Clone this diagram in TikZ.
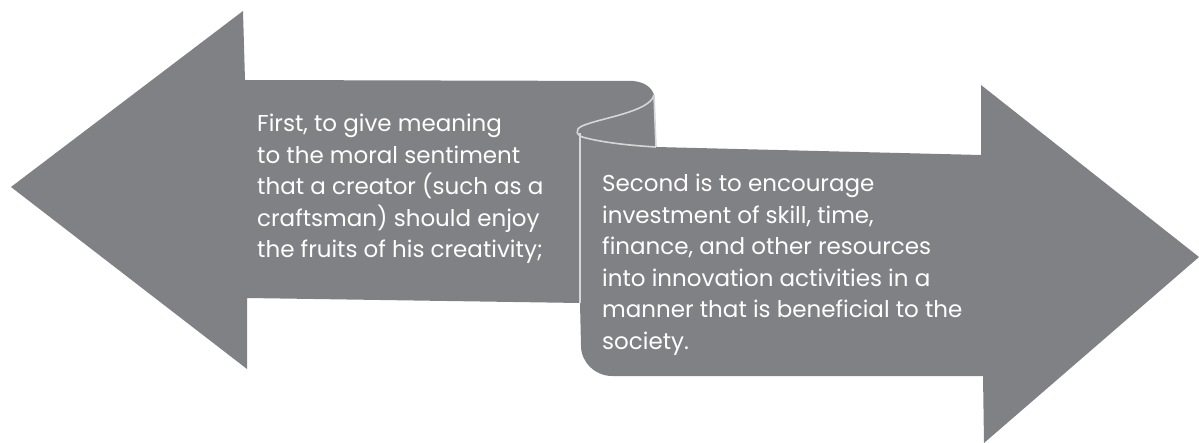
\documentclass[tikz,border=0pt]{standalone}
\usepackage{fontspec}
\setmainfont{Poppins}
\definecolor{arrowgray}{HTML}{808184}
\definecolor{foldline}{HTML}{D6D6D8}

\begin{document}
\begin{tikzpicture}[x=1pt, y=-1pt,
    every node/.style={text=white, font=\fontsize{23}{31.5}\selectfont, align=left, inner sep=0pt, anchor=north west},
    fold/.style={draw=foldline, line width=1.6pt}]
\useasboundingbox (0,0) rectangle (1199,443);
% both arrows as one ribbon
\fill[arrowgray] (11,187) -- (243,11) -- (245,80) -- (633,81)
    .. controls (645,82) and (652,88) .. (654,95) -- (656,147) -- (981,155)
    -- (981,85) -- (1199,257) -- (984,443) -- (983,376) -- (612,376)
    .. controls (595,376) and (581,362) .. (581,346) -- (580,303)
    -- (247,298) -- (247,369) -- cycle;
% the curl in the middle
\draw[fold] (654,95) .. controls (650,112) and (600,118) .. (582,126)
    .. controls (574,130) and (576,136) .. (586,138)
    .. controls (610,144) and (640,146) .. (656,147);
\draw[fold] (654,95) -- (656,147);
\draw[fold, line width=1.2pt] (580,133) -- (580,303);
%\draw (0,0) rectangle (1199,443);
\node (first) at (257,114) {First, to give meaning\\to the moral sentiment\\that a creator (such as a\\craftsman) should enjoy\\the fruits of his creativity;};
\node (second) at (602,174) {Second is to encourage\\investment of skill, time,\\finance, and other resources\\into innovation activities in a\\manner that is beneficial to the\\society.};
\end{tikzpicture}
\end{document}
